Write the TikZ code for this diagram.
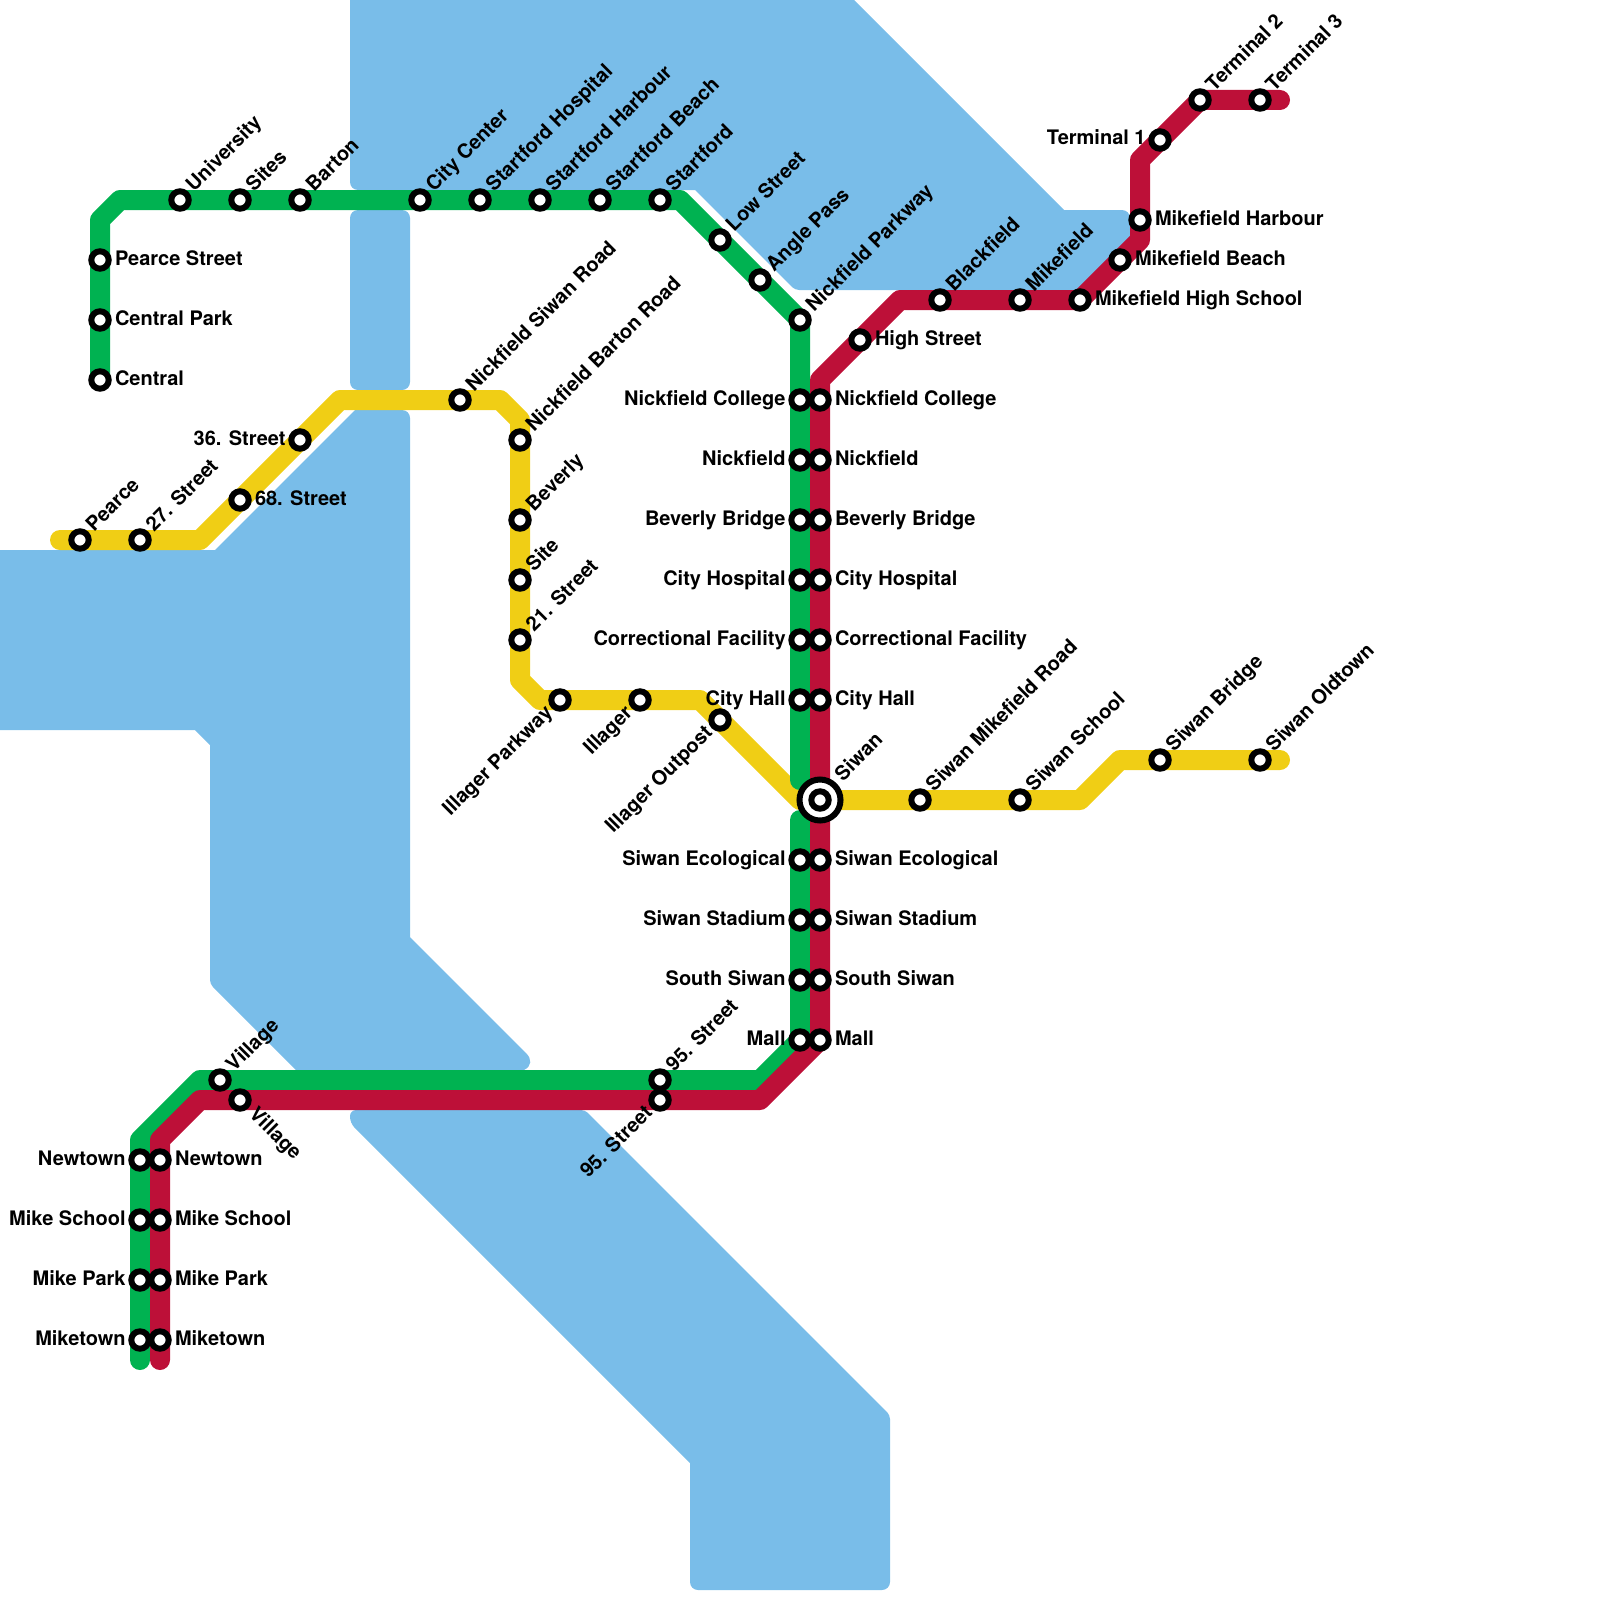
\documentclass[tikz,border=0pt]{standalone}
\usepackage{fontspec}
\usepackage{xcolor}
\usetikzlibrary{backgrounds}
\setmainfont{TeX Gyre Heros}
\definecolor{mapwater}{HTML}{79BDE9}
\definecolor{mapgreen}{HTML}{00B251}
\definecolor{mapred}{HTML}{BD1038}
\definecolor{mapyellow}{HTML}{F0CE15}
\newcommand{\station}[4]{%
  \node[stop] (#1) at (#2) {};
  \node[#3] (#1-label) at (#1.center) {#4};
}

\begin{document}
\begin{tikzpicture}[
  x=0.5pt,
  y=-0.5pt,
  every node/.style={font=\fontsize{10}{12}\selectfont\bfseries, black, inner sep=0pt, outer sep=0pt},
  water/.style={mapwater, rounded corners=4pt},
  route/.style={line width=10pt, line cap=round, line join=round},
  stop/.style={circle, draw=black, fill=white, line width=3pt, minimum size=8.7pt},
  hubring/.style={circle, draw=black, fill=white, line width=3pt, minimum size=20.5pt},
  labelne/.style={anchor=base west, xshift=7.1pt, yshift=3.8pt, rotate=45},
  labelhub/.style={anchor=base west, xshift=11.5pt, yshift=9pt, rotate=45},
  labelsw/.style={anchor=base east, xshift=-3.3pt, yshift=-7pt, rotate=45},
  labelse/.style={anchor=base west, xshift=4pt, yshift=-7.5pt, rotate=-45},
  labelright/.style={anchor=base west, xshift=7.5pt, yshift=-2.5pt},
  labelleft/.style={anchor=base east, xshift=-7.2pt, yshift=-2.5pt}
]
  \useasboundingbox (0,0) rectangle (1600,1600);

  % ---- green line, north-west branch and trunk ---------------------------
  \station{central}{100,380}{labelright}{Central}
  \station{centralpark}{100,320}{labelright}{Central Park}
  \station{pearcestreet}{100,260}{labelright}{Pearce Street}
  \station{university}{180,200}{labelne}{University}
  \station{sites}{240,200}{labelne}{Sites}
  \station{barton}{300,200}{labelne}{Barton}
  \station{citycenter}{420,200}{labelne}{City Center}
  \station{starthospital}{480,200}{labelne}{Startford Hospital}
  \station{startharbour}{540,200}{labelne}{Startford Harbour}
  \station{startbeach}{600,200}{labelne}{Startford Beach}
  \station{startford}{660,200}{labelne}{Startford}
  \station{lowstreet}{720,240}{labelne}{Low Street}
  \station{anglepass}{760,280}{labelne}{Angle Pass}
  \station{nickparkway}{800,320}{labelne}{Nickfield Parkway}
  \station{gnickcollege}{800,400}{labelleft}{Nickfield College}
  \station{gnickfield}{800,460}{labelleft}{Nickfield}
  \station{gbeverlybridge}{800,520}{labelleft}{Beverly Bridge}
  \station{gcityhospital}{800,580}{labelleft}{City Hospital}
  \station{gcorrectional}{800,640}{labelleft}{Correctional Facility}
  \station{gcityhall}{800,700}{labelleft}{City Hall}

  % ---- green line, south of the hub ---------------------------------------
  \station{gecological}{800,860}{labelleft}{Siwan Ecological}
  \station{gstadium}{800,920}{labelleft}{Siwan Stadium}
  \station{gsouthsiwan}{800,980}{labelleft}{South Siwan}
  \station{gmall}{800,1040}{labelleft}{Mall}
  \station{gninetyfive}{660,1080}{labelne}{95. Street}
  \station{gvillage}{220,1080}{labelne}{Village}
  \station{gnewtown}{140,1160}{labelleft}{Newtown}
  \station{gmikeschool}{140,1220}{labelleft}{Mike School}
  \station{gmikepark}{140,1280}{labelleft}{Mike Park}
  \station{gmiketown}{140,1340}{labelleft}{Miketown}

  % ---- red line -----------------------------------------------------------
  \station{terminalthree}{1260,100}{labelne}{Terminal 3}
  \station{terminaltwo}{1200,100}{labelne}{Terminal 2}
  \station{terminalone}{1160,140}{labelleft}{Terminal 1}
  \station{mikeharbour}{1140,220}{labelright}{Mikefield Harbour}
  \station{mikebeach}{1120,260}{labelright}{Mikefield Beach}
  \station{mikehigh}{1080,300}{labelright}{Mikefield High School}
  \station{mikefield}{1020,300}{labelne}{Mikefield}
  \station{blackfield}{940,300}{labelne}{Blackfield}
  \station{highstreet}{860,340}{labelright}{High Street}
  \station{rnickcollege}{820,400}{labelright}{Nickfield College}
  \station{rnickfield}{820,460}{labelright}{Nickfield}
  \station{rbeverlybridge}{820,520}{labelright}{Beverly Bridge}
  \station{rcityhospital}{820,580}{labelright}{City Hospital}
  \station{rcorrectional}{820,640}{labelright}{Correctional Facility}
  \station{rcityhall}{820,700}{labelright}{City Hall}
  \station{recological}{820,860}{labelright}{Siwan Ecological}
  \station{rstadium}{820,920}{labelright}{Siwan Stadium}
  \station{rsouthsiwan}{820,980}{labelright}{South Siwan}
  \station{rmall}{820,1040}{labelright}{Mall}
  \station{rninetyfive}{660,1100}{labelsw}{95. Street}
  \station{rvillage}{240,1100}{labelse}{Village}
  \station{rnewtown}{160,1160}{labelright}{Newtown}
  \station{rmikeschool}{160,1220}{labelright}{Mike School}
  \station{rmikepark}{160,1280}{labelright}{Mike Park}
  \station{rmiketown}{160,1340}{labelright}{Miketown}

  % ---- yellow line --------------------------------------------------------
  \station{pearce}{80,540}{labelne}{Pearce}
  \station{twentyseven}{140,540}{labelne}{27. Street}
  \station{sixtyeight}{240,500}{labelright}{68. Street}
  \station{thirtysix}{300,440}{labelleft}{36. Street}
  \station{nicksiwanroad}{460,400}{labelne}{Nickfield Siwan Road}
  \station{nickbartonroad}{520,440}{labelne}{Nickfield Barton Road}
  \station{beverly}{520,520}{labelne}{Beverly}
  \station{site}{520,580}{labelne}{Site}
  \station{twentyone}{520,640}{labelne}{21. Street}
  \station{illagerparkway}{560,700}{labelsw}{Illager Parkway}
  \station{illager}{640,700}{labelsw}{Illager}
  \station{illageroutpost}{720,720}{labelsw}{Illager Outpost}
  \station{siwanmikeroad}{920,800}{labelne}{Siwan Mikefield Road}
  \station{siwanschool}{1020,800}{labelne}{Siwan School}
  \station{siwanbridge}{1160,760}{labelne}{Siwan Bridge}
  \station{siwanoldtown}{1260,760}{labelne}{Siwan Oldtown}

  % ---- the hub, ring first and the stop on top of it ----------------------
  \node[hubring] (siwanring) at (820,800) {};
  \station{siwan}{820,800}{labelhub}{Siwan}

  % ---- bends of the three lines -------------------------------------------
  \coordinate (gbendA) at (100,220);
  \coordinate (gbendB) at (120,200);
  \coordinate (gbendC) at (680,200);
  \coordinate (gend) at (800,780);
  \coordinate (gstart) at (800,820);
  \coordinate (gbendD) at (760,1080);
  \coordinate (gbendE) at (200,1080);
  \coordinate (gbendF) at (140,1140);
  \coordinate (gfoot) at (140,1360);
  \coordinate (rhead) at (1280,100);
  \coordinate (rbendA) at (1140,160);
  \coordinate (rbendB) at (1140,240);
  \coordinate (rbendC) at (900,300);
  \coordinate (rbendD) at (820,380);
  \coordinate (rbendE) at (760,1100);
  \coordinate (rbendF) at (200,1100);
  \coordinate (rbendG) at (160,1140);
  \coordinate (rfoot) at (160,1360);
  \coordinate (yhead) at (60,540);
  \coordinate (ybendA) at (200,540);
  \coordinate (ybendB) at (340,400);
  \coordinate (ybendC) at (500,400);
  \coordinate (ybendD) at (520,420);
  \coordinate (ybendE) at (520,680);
  \coordinate (ybendF) at (540,700);
  \coordinate (ybendG) at (700,700);
  \coordinate (ybendH) at (800,800);
  \coordinate (ybendI) at (1080,800);
  \coordinate (ybendJ) at (1120,760);
  \coordinate (yfoot) at (1280,760);

  \begin{scope}[on background layer]
    % ---- water, rounded only where it bulges out ---------------------------
    \fill[water] (350,0) [sharp corners] -- (854,0) -- (1064,210)
      [rounded corners=4pt] -- (1130,210) -- (1130,245) -- (1085,290)
      [rounded corners=2pt] -- (795,290)
      [sharp corners] -- (695,190) [rounded corners=4pt] -- (350,190) [sharp corners] -- cycle;
    \fill[water] (350,210) rectangle (410,390);
    \fill[water] (0,550) [sharp corners] -- (215,550) -- (355,410)
      [rounded corners=4pt] -- (410,410) [sharp corners] -- (410,937) -- (526,1053)
      .. controls (532,1059) and (532,1066) .. (524,1070) -- (296,1070)
      [rounded corners=2pt] -- (210,984)
      [sharp corners] -- (210,745) -- (195,730) -- (0,730) -- cycle;
    \fill[water] (350,1110) [rounded corners=2pt] -- (585,1110) -- (890,1415)
      [rounded corners=4pt] -- (890,1590) -- (690,1590)
      [sharp corners] -- (690,1463) [rounded corners=3pt] -- (350,1123) -- cycle;

    % ---- lines --------------------------------------------------------------
    \draw[route, mapyellow] (yhead) -- (ybendA) -- (ybendB) -- (ybendC) -- (ybendD)
      -- (ybendE) -- (ybendF) -- (ybendG) -- (ybendH) -- (ybendI) -- (ybendJ) -- (yfoot);
    \draw[route, mapgreen] (central.center) -- (gbendA) -- (gbendB) -- (gbendC)
      -- (nickparkway.center) -- (gend);
    \draw[route, mapgreen] (gstart) -- (gmall.center) -- (gbendD) -- (gbendE)
      -- (gbendF) -- (gfoot);
    \draw[route, mapred] (rhead) -- (terminaltwo.center) -- (rbendA) -- (rbendB)
      -- (mikehigh.center) -- (rbendC) -- (rbendD) -- (rmall.center) -- (rbendE)
      -- (rbendF) -- (rbendG) -- (rfoot);
  \end{scope}

\end{tikzpicture}
\end{document}
